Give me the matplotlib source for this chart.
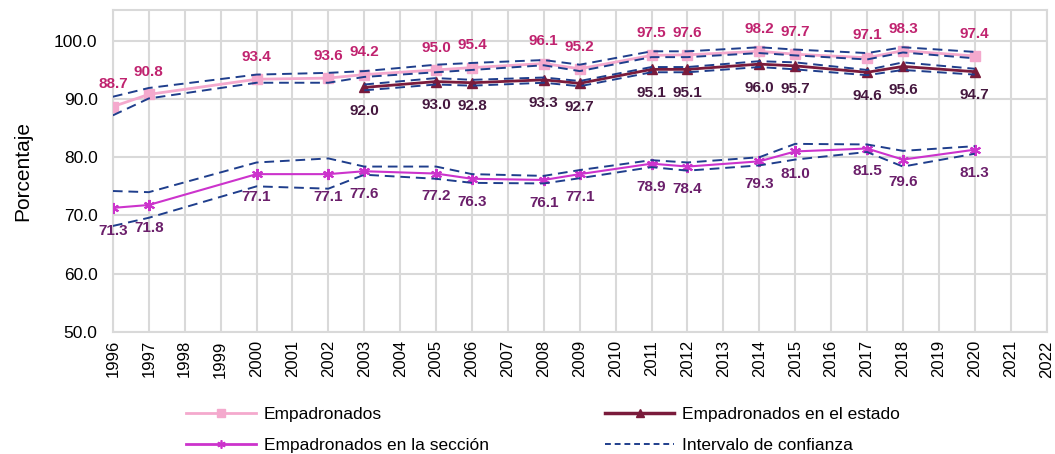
import matplotlib
matplotlib.use("Agg")
import matplotlib.pyplot as plt
from matplotlib.lines import Line2D

plt.rcParams["font.family"] = ["Liberation Sans", "DejaVu Sans"]

# Datos
years_all = [1996, 1997, 2000, 2002, 2003, 2005, 2006, 2008, 2009, 2011, 2012, 2014, 2015, 2017, 2018, 2020]
empadronados = [88.7, 90.8, 93.4, 93.6, 94.2, 95.0, 95.4, 96.1, 95.2, 97.5, 97.6, 98.2, 97.7, 97.1, 98.3, 97.4]
emp_upper = [90.4, 91.9, 94.2, 94.5, 94.8, 95.9, 96.2, 96.7, 95.9, 98.2, 98.2, 98.9, 98.5, 97.9, 98.9, 98.1]
emp_lower = [87.2, 90.1, 92.8, 92.8, 93.8, 94.6, 95.0, 95.8, 94.8, 97.2, 97.2, 97.9, 97.5, 96.8, 98.0, 97.0]

years_estado = [2003, 2005, 2006, 2008, 2009, 2011, 2012, 2014, 2015, 2017, 2018, 2020]
estado = [92.0, 93.0, 92.8, 93.3, 92.7, 95.1, 95.1, 96.0, 95.7, 94.6, 95.6, 94.7]
est_upper = [92.5, 93.6, 93.3, 93.7, 93.1, 95.5, 95.5, 96.5, 96.3, 95.0, 96.3, 95.2]
est_lower = [91.5, 92.5, 92.3, 92.8, 92.2, 94.6, 94.6, 95.5, 95.1, 94.1, 95.0, 94.2]

seccion = [71.3, 71.8, 77.1, 77.1, 77.6, 77.2, 76.3, 76.1, 77.1, 78.9, 78.4, 79.3, 81.0, 81.5, 79.6, 81.3]
sec_upper = [74.2, 74.0, 79.1, 79.8, 78.4, 78.4, 77.1, 76.8, 77.8, 79.5, 79.1, 80.0, 82.3, 82.2, 81.1, 81.9]
sec_lower = [68.2, 69.6, 75.0, 74.6, 77.0, 76.3, 75.6, 75.5, 76.4, 78.3, 77.7, 78.6, 79.6, 80.9, 78.4, 80.6]

x_ticks = list(range(1996, 2023))
y_ticks = [50, 60, 70, 80, 90, 100]

c_emp = "#F4A9CD"
c_est = "#7A1B3B"
c_sec = "#CC33CC"
c_ci = "#1F3E8C"
lbl_emp = "#C0236F"
lbl_est = "#45183F"
lbl_sec = "#6B1F6B"

fig = plt.figure(figsize=(10.55, 4.54), dpi=100)
ax = fig.add_axes([0.107, 0.269, 0.885, 0.709])

ax.plot(years_all, empadronados, color=c_emp, lw=2, marker="s", ms=7, zorder=3)
ax.plot(years_estado, estado, color=c_est, lw=2, marker="^", ms=7, zorder=3)
ax.plot(years_all, seccion, color=c_sec, lw=1.5, marker=(6, 2, 0), ms=8, mew=1.5, zorder=3)

# Intervalos de confianza
dash = (0, (5, 3))
for xs, ys in [(years_all, emp_upper), (years_all, emp_lower),
               (years_estado, est_upper), (years_estado, est_lower),
               (years_all, sec_upper), (years_all, sec_lower)]:
    ax.plot(xs, ys, color=c_ci, lw=1.4, linestyle=dash, zorder=4)

# Etiquetas de datos
for x, v in zip(years_all, empadronados):
    ax.annotate(f"{v:.1f}", (x, v), xytext=(0, 16), textcoords="offset points",
                ha="center", va="center", fontsize=11, fontweight="bold", color=lbl_emp)
for x, v in zip(years_estado, estado):
    ax.annotate(f"{v:.1f}", (x, v), xytext=(0, -17), textcoords="offset points",
                ha="center", va="center", fontsize=11, fontweight="bold", color=lbl_est)
for x, v in zip(years_all, seccion):
    ax.annotate(f"{v:.1f}", (x, v), xytext=(0, -16.5), textcoords="offset points",
                ha="center", va="center", fontsize=11, fontweight="bold", color=lbl_sec)

ax.set_xlim(1996, 2022)
ax.set_ylim(50, 105.3)
ax.set_xticks(x_ticks)
ax.set_xticklabels([str(y) for y in x_ticks], rotation=90, fontsize=12)
ax.set_yticks(y_ticks)
ax.set_yticklabels([f"{v:.1f}" for v in y_ticks], fontsize=12.5)
ax.tick_params(axis="y", length=0, pad=11)
ax.tick_params(axis="x", length=0, pad=6)
ax.grid(True, color="#D9D9D9", lw=1.5)
ax.set_axisbelow(True)
for s in ax.spines.values():
    s.set_color("#D9D9D9")
    s.set_linewidth(1.5)
ax.set_ylabel("Porcentaje", fontsize=15, labelpad=16)

handles = [
    Line2D([], [], color=c_emp, lw=2, marker="s", ms=6),
    Line2D([], [], color=c_sec, lw=2, marker=(6, 2, 0), ms=6, mew=1.2),
    Line2D([], [], color=c_est, lw=2.5, marker="^", ms=6),
    Line2D([], [], color=c_ci, lw=1.4, linestyle=(0, (3, 2))),
]
labels = ["Empadronados", "Empadronados en la sección",
          "Empadronados en el estado", "Intervalo de confianza"]
fig.legend(handles, labels, ncol=2, loc="center", bbox_to_anchor=(0.515, 0.053),
           frameon=False, fontsize=12.5, handlelength=4.0, columnspacing=6.7,
           handletextpad=0.45, labelspacing=0.9)

fig.savefig("out.png", dpi=100)
